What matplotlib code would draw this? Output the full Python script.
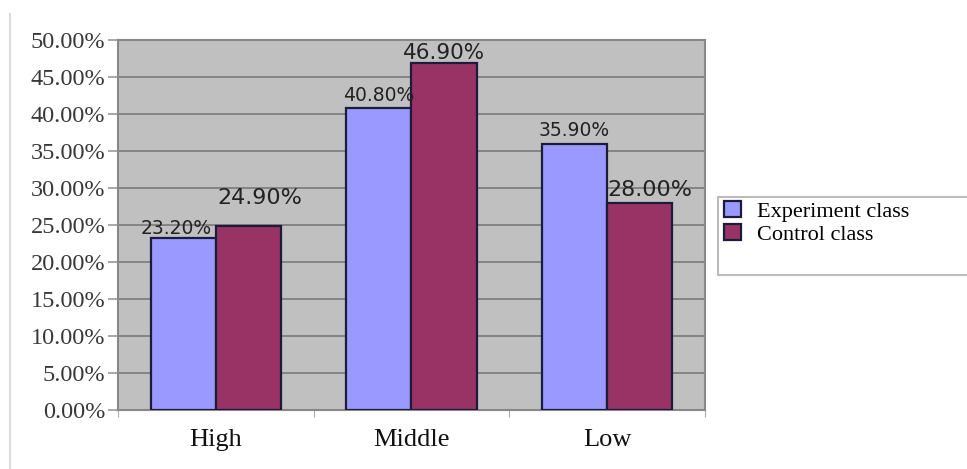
import matplotlib
matplotlib.use("agg")
import matplotlib.pyplot as plt
from matplotlib.patches import Rectangle
from matplotlib.lines import Line2D
import numpy as np

# achievement levels of the two classes
categories = ["High", "Middle", "Low"]
experiment = [23.2, 40.8, 35.9]
control = [24.9, 46.9, 28.0]
series_names = ["Experiment class", "Control class"]

# label style: (dx, dy) in points and font size for every bar label
exp_label_style = [(-5, 0, 13.5), (0, 2, 13.5), (0, 3, 13.5)]
ctl_label_style = [(8, 13, 16), (0, 0, 15.5), (7, 2, 16)]

BLUE = "#9999ff"
RED = "#993366"
EDGE = "#1c1c3a"

fig = plt.figure(figsize=(9.67, 4.69), dpi=100)
ax = fig.add_axes([0.122, 0.126, 0.607, 0.789])
ax.set_facecolor("#c0c0c0")

x = np.arange(len(categories))
w = 1 / 3
b1 = ax.bar(x - w / 2, experiment, w, color=BLUE, edgecolor=EDGE, linewidth=1.6, zorder=3)
b2 = ax.bar(x + w / 2, control, w, color=RED, edgecolor=EDGE, linewidth=1.6, zorder=3)

for i, v in enumerate(experiment):
    dx, dy, fs = exp_label_style[i]
    ax.annotate("%.2f%%" % v, (x[i] - w / 2, v), xytext=(dx, dy), textcoords="offset points",
                ha="center", va="bottom", fontsize=fs, color="#222222",
                family="DejaVu Sans", zorder=4)
for i, v in enumerate(control):
    dx, dy, fs = ctl_label_style[i]
    ax.annotate("%.2f%%" % v, (x[i] + w / 2, v), xytext=(dx, dy), textcoords="offset points",
                ha="center", va="bottom", fontsize=fs, color="#222222",
                family="DejaVu Sans", zorder=4)

ax.set_xlim(-0.5, 2.5)
ax.set_ylim(0, 50)
ax.set_yticks(np.arange(0, 50.1, 5))
ax.set_yticklabels(["%.2f%%" % t for t in np.arange(0, 50.1, 5)],
                   family="Liberation Serif", fontsize=17.5, color="#383838")
ax.yaxis.grid(True, color="#7a7a7a", linewidth=1.2, zorder=1)
ax.set_axisbelow(True)

# category labels between boundary ticks
ax.set_xticks([-0.5, 0.5, 1.5, 2.5])
ax.set_xticklabels([])
ax.set_xticks(x, minor=True)
ax.set_xticklabels(categories, minor=True, family="Liberation Serif", fontsize=19, color="#111111")
ax.tick_params(axis="x", which="minor", length=0, pad=14)
ax.tick_params(axis="x", which="major", length=5, color="#aaaaaa", direction="out")
ax.tick_params(axis="y", length=7, color="#999999", width=1.2, pad=2)

for s in ax.spines.values():
    s.set_color("#888888")
    s.set_linewidth(1.5)

# thin frame line at the left edge of the page
fig.add_artist(Line2D([0.0105, 0.0105], [0.0, 0.97], transform=fig.transFigure,
                      color="#dddddd", linewidth=1.5))

# legend box, running off the right edge
fig.add_artist(Rectangle((0.742, 0.414), 0.3, 0.166, transform=fig.transFigure,
                         facecolor="white", edgecolor="#bbbbbb", linewidth=1.5))
fig.legend([b1, b2], series_names, loc="upper left", bbox_to_anchor=(0.733, 0.605),
           frameon=False, handlelength=0.75, handleheight=0.75, handletextpad=0.7,
           labelspacing=0.1, borderpad=0.2,
           prop={"family": "Liberation Serif", "size": 16})

fig.savefig("out.png", dpi=100)
